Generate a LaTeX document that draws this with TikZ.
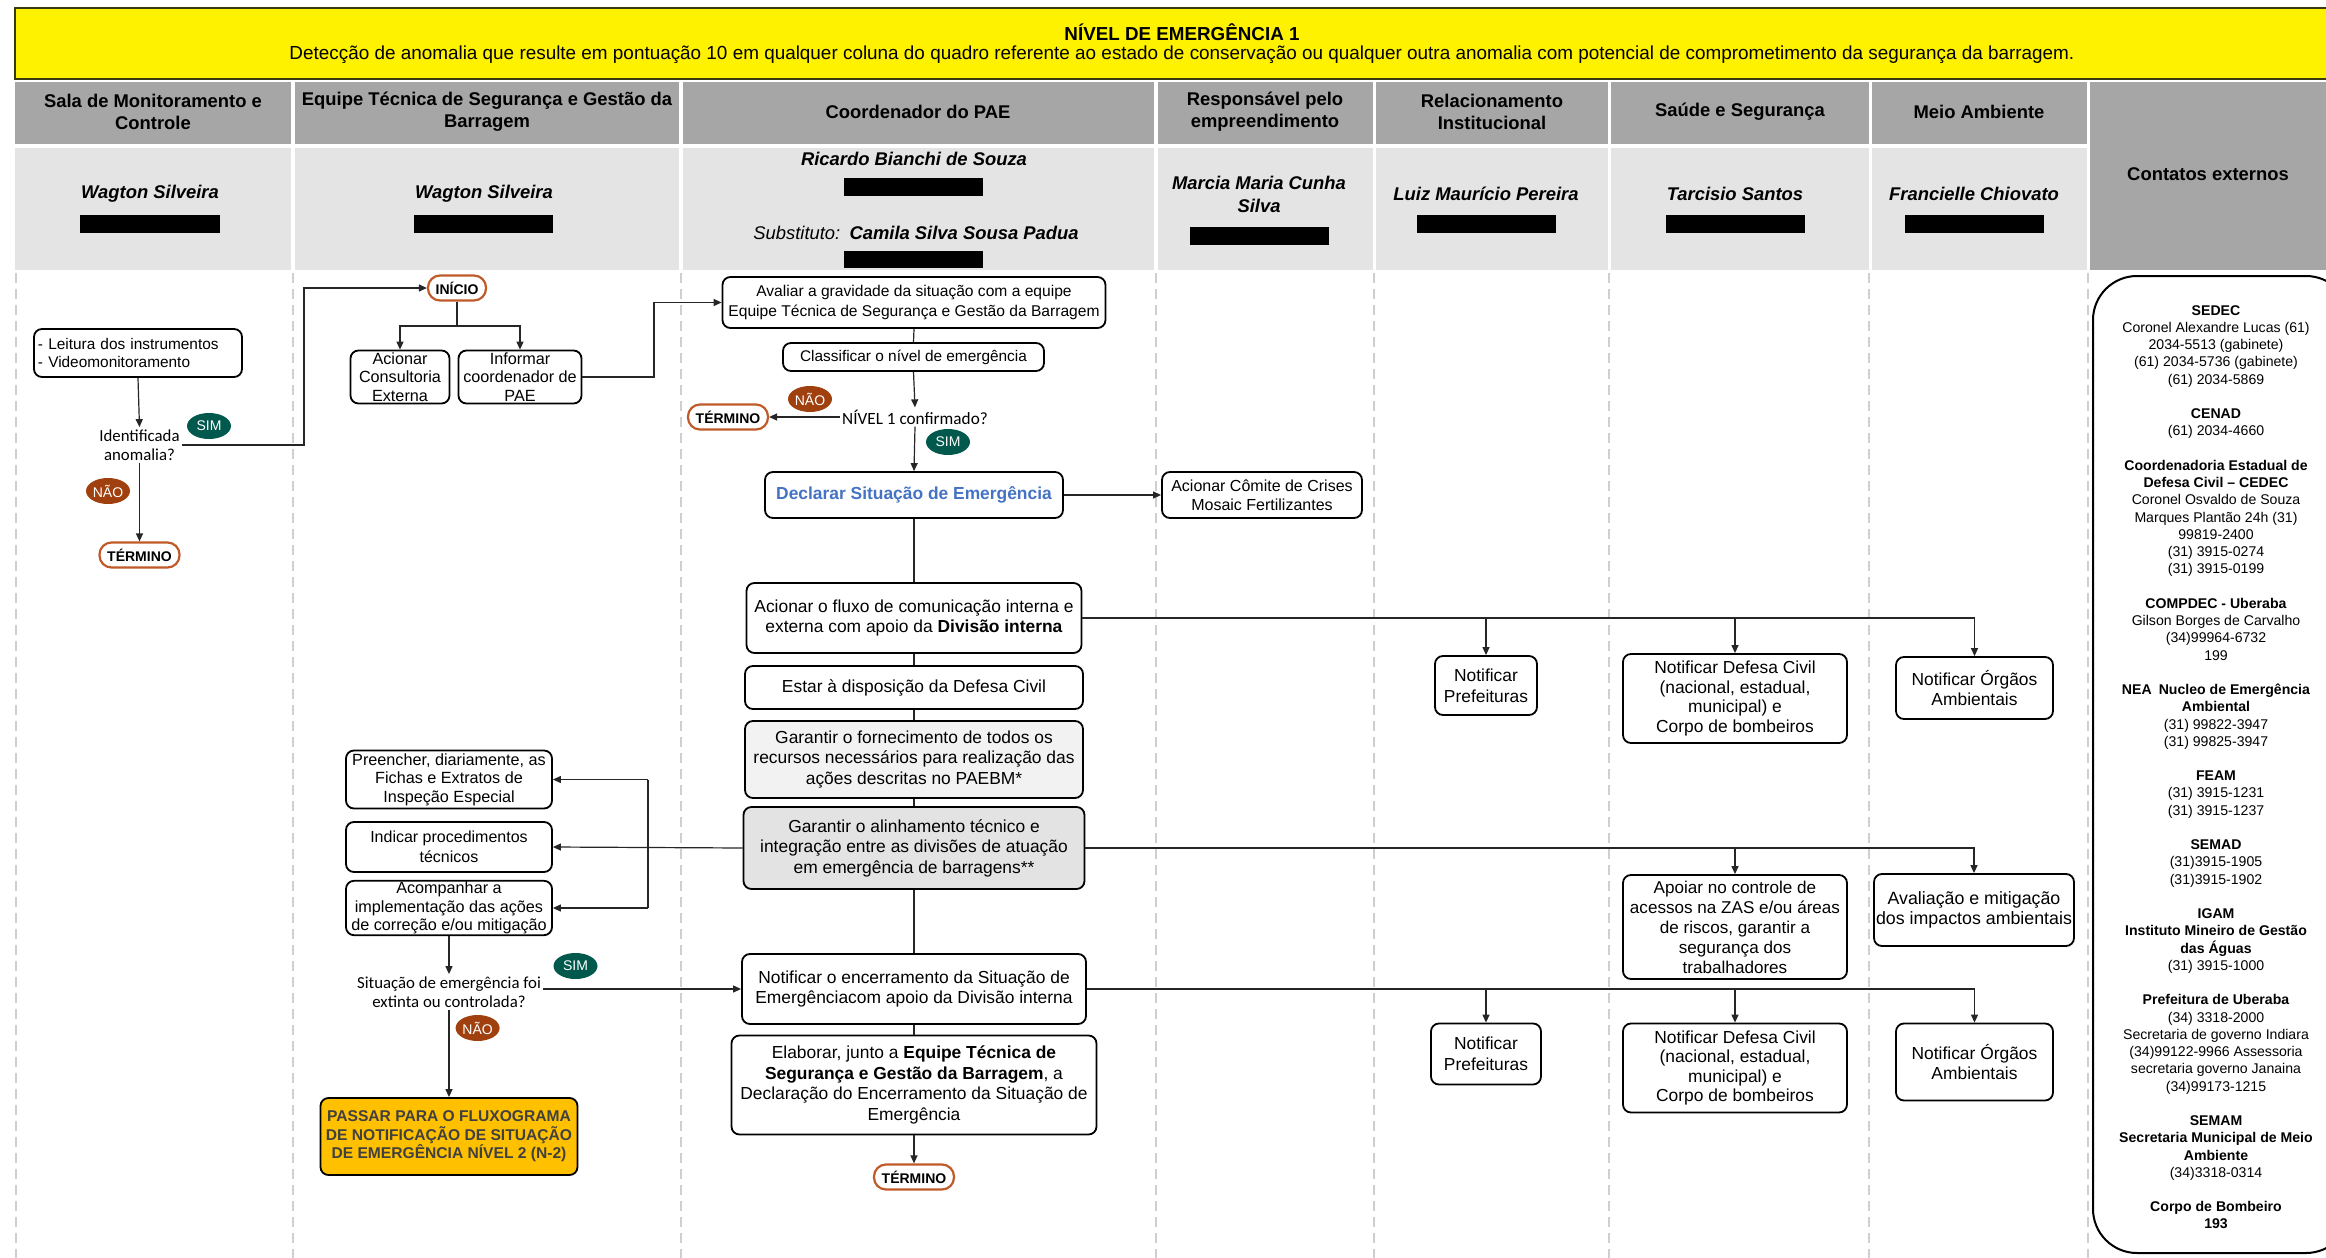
\documentclass[tikz,border=0pt]{standalone}
\usepackage{fontspec}
\setmainfont{Liberation Sans}
\newfontfamily\calib{Carlito}
\usetikzlibrary{arrows.meta,calc,shapes.geometric}
\definecolor{chdr}{HTML}{A6A6A6}
\definecolor{cname}{HTML}{E4E4E4}
\definecolor{csim}{HTML}{00594C}
\definecolor{cnao}{HTML}{A0400F}
\definecolor{cpill}{HTML}{C05A28}
\definecolor{cdecl}{HTML}{4472C4}
\definecolor{camber}{HTML}{FFC000}
\definecolor{cpass}{HTML}{404040}
\definecolor{cfillA}{HTML}{F2F2F2}
\definecolor{cfillB}{HTML}{E3E3E3}
\definecolor{clane}{HTML}{CFCFCF}
\definecolor{ctb}{HTML}{3A3A10}
\definecolor{ccon}{HTML}{262626}
\tikzset{
  box/.style={draw=black, line width=0.9pt, rounded corners=4pt, fill=white, align=center,
    inner sep=1pt, font=\fontsize{8.7}{10.3}\selectfont},
  smallbox/.style={box, inner sep=0.5pt, font=\fontsize{8.1}{9.3}\selectfont},
  dec/.style={align=center, inner sep=1pt, font=\calib\fontsize{8.4}{9.6}\selectfont},
  simb/.style={ellipse, fill=csim, text=white, minimum width=22pt, minimum height=13pt, inner sep=0pt, font=\fontsize{7}{8}\selectfont},
  naob/.style={ellipse, fill=cnao, text=white, minimum width=22pt, minimum height=13pt, inner sep=0pt, font=\fontsize{7}{8}\selectfont},
  pill/.style={draw=cpill, line width=1.1pt, rounded corners=6pt, fill=white, minimum width=40pt, minimum height=12.5pt, inner sep=1pt, font=\bfseries\fontsize{7}{8}\selectfont},
  arr/.style={draw=ccon, line width=0.6pt, -{Triangle[length=4pt,width=3.5pt]}},
  ln/.style={draw=ccon, line width=0.6pt},
  lane/.style={draw=clane, line width=0.7pt, dash pattern=on 5pt off 3pt},
  hdrt/.style={align=center, inner sep=0pt, font=\bfseries\fontsize{9.2}{11}\selectfont},
  namet/.style={align=center, inner sep=0pt, font=\bfseries\itshape\fontsize{9.2}{11.5}\selectfont},
}
\begin{document}
\begin{tikzpicture}[x=0.5pt,y=-0.5pt]
\useasboundingbox (0,0) rectangle (2326,1258);
\fill[white] (0,0) rectangle (2326,1258);
% title band
\fill[yellow] (15,8) rectangle (2345,79);
\draw[ctb, line width=1.3pt] (2345,8) -- (15,8) -- (15,79) -- (2345,79);
\node[font=\bfseries\fontsize{9.4}{11}\selectfont, inner sep=0pt] (t1) at (1182,32) {NÍVEL DE EMERGÊNCIA 1};
\node[font=\fontsize{9.45}{11}\selectfont, inner sep=0pt] (t2) at (1182,55) {Detecção de anomalia que resulte em pontuação 10 em qualquer coluna do quadro referente ao estado de conservação ou qualquer outra anomalia com potencial de comprometimento da segurança da barragem.};
% header cells
\foreach \a/\b in {15/291,295/679,683/1154,1158/1373,1376/1608,1611/1869,1872/2087}{
  \fill[chdr] (\a,82) rectangle (\b,144);
  \fill[cname] (\a,148) rectangle (\b,270);
}
\fill[chdr] (2090,82) rectangle (2326,270);
\node[hdrt] (h1) at (153,112) {Sala de Monitoramento e\\Controle};
\node[hdrt] (h2) at (487,112) {Equipe Técnica de Segurança e Gestão da\\Barragem};
\node[hdrt] (h3) at (918,112) {Coordenador do PAE};
\node[hdrt] (h4) at (1265,112) {Responsável pelo\\empreendimento};
\node[hdrt] (h5) at (1492,112) {Relacionamento\\Institucional};
\node[hdrt] (h6) at (1740,112) {Saúde e Segurança};
\node[hdrt] (h7) at (1979,112) {Meio Ambiente};
\node[hdrt] (h8) at (2208,174) {Contatos externos};
% names
\node[namet] (n1) at (150,194) {Wagton Silveira};
\node[namet] (n2) at (484,194) {Wagton Silveira};
\node[namet] (n3) at (914,159) {Ricardo Bianchi de Souza};
\node[namet] (n3b) at (916,233) {{\mdseries Substituto:}\enspace Camila Silva Sousa Padua};
\node[namet] (n4) at (1259,194) {Marcia Maria Cunha\\Silva};
\node[namet] (n5) at (1486,194) {Luiz Maurício Pereira};
\node[namet] (n6) at (1735,194) {Tarcisio Santos};
\node[namet] (n7) at (1974,194) {Francielle Chiovato};
\fill[black] (80,215) rectangle (220,233);
\fill[black] (414,215) rectangle (553,233);
\fill[black] (844,178) rectangle (983,196);
\fill[black] (844,251) rectangle (983,268);
\fill[black] (1190,227) rectangle (1329,245);
\fill[black] (1417,215) rectangle (1556,233);
\fill[black] (1666,215) rectangle (1805,233);
\fill[black] (1905,215) rectangle (2044,233);
% lanes
\foreach \x in {16,293,681,1156,1374,1609,1869,2088}{
  \draw[lane] (\x,273) -- (\x,1258);
}
% contacts box
\draw[black, line width=1pt, rounded corners=22pt] (2093,276) rectangle (2350,1253);
\node[anchor=north, align=center, inner sep=0pt, font=\fontsize{7.05}{8.62}\selectfont] (cont) at (2216,305) {%
\textbf{SEDEC}\\Coronel Alexandre Lucas (61)\\2034-5513 (gabinete)\\(61) 2034-5736 (gabinete)\\(61) 2034-5869\\[8.62pt]
\textbf{CENAD}\\(61) 2034-4660\\[8.62pt]
\textbf{Coordenadoria Estadual de}\\\textbf{Defesa Civil – CEDEC}\\Coronel Osvaldo de Souza\\Marques Plantão 24h (31)\\99819-2400\\(31) 3915-0274\\(31) 3915-0199\\[8.62pt]
\textbf{COMPDEC - Uberaba}\\Gilson Borges de Carvalho\\(34)99964-6732\\199\\[8.62pt]
\textbf{NEA\enspace Nucleo de Emergência}\\\textbf{Ambiental}\\(31) 99822-3947\\(31) 99825-3947\\[8.62pt]
\textbf{FEAM}\\(31) 3915-1231\\(31) 3915-1237\\[8.62pt]
\textbf{SEMAD}\\(31)3915-1905\\(31)3915-1902\\[8.62pt]
\textbf{IGAM}\\\textbf{Instituto Mineiro de Gestão}\\\textbf{das Águas}\\(31) 3915-1000\\[8.62pt]
\textbf{Prefeitura de Uberaba}\\(34) 3318-2000\\Secretaria de governo Indiara\\(34)99122-9966 Assessoria\\secretaria governo Janaina\\(34)99173-1215\\[8.62pt]
\textbf{SEMAM}\\\textbf{Secretaria Municipal de Meio}\\\textbf{Ambiente}\\(34)3318-0314\\[8.62pt]
\textbf{Corpo de Bombeiro}\\\textbf{193}};
% ---- lane 1
\node[box, minimum width=104pt, minimum height=24pt, align=left, text width=100pt, inner sep=2pt, font=\fontsize{7.7}{9.4}\selectfont] (leit) at (138,353) {- Leitura dos instrumentos\\- Videomonitoramento};
\node[dec] (ident) at (139.5,445) {Identificada\\anomalia?};
\node[simb] (sim1) at (209,426) {SIM};
\node[naob] (nao1) at (108,491) {NÃO};
\node[pill] (term1) at (139.5,555) {TÉRMINO};
% ---- lane 2
\node[pill, minimum width=29pt] (inicio) at (457,288) {INÍCIO};
\node[smallbox, minimum width=49.5pt, minimum height=26.5pt] (acion) at (400,377) {Acionar\\Consultoria\\Externa};
\node[smallbox, minimum width=61.5pt, minimum height=26.5pt] (inform) at (520,377) {Informar\\coordenador de\\PAE};
% ---- lane 3
\node[box, minimum width=191.5pt, minimum height=25.5pt, font=\fontsize{7.8}{9.6}\selectfont] (aval) at (914,302.5) {Avaliar a gravidade da situação com a equipe\\Equipe Técnica de Segurança e Gestão da Barragem};
\node[box, minimum width=130.5pt, minimum height=14pt, font=\fontsize{7.7}{9.4}\selectfont] (classif) at (913.5,357) {Classificar o nível de emergência};
\node[dec, font=\calib\fontsize{8.6}{9.6}\selectfont] (nivel) at (915,417) {NÍVEL 1 confirmado?};
\node[naob] (nao2) at (810,399) {NÃO};
\node[pill] (term2) at (728,417) {TÉRMINO};
\node[simb] (sim2) at (948,442) {SIM};
\node[box, minimum width=149pt, minimum height=23pt, text=cdecl, font=\bfseries\fontsize{8.7}{10}\selectfont] (decl) at (914,495) {Declarar Situação de Emergência};
\node[box, minimum width=100pt, minimum height=23pt, font=\fontsize{8}{9.6}\selectfont] (comite) at (1262,495) {Acionar Cômite de Crises\\Mosaic Fertilizantes};
\node[box, minimum width=167.5pt, minimum height=35pt] (fluxo) at (914,618) {Acionar o fluxo de comunicação interna e\\externa com apoio da \textbf{Divisão interna}};
\node[box, minimum width=169pt, minimum height=21.5pt] (estar) at (914,687.5) {Estar à disposição da Defesa Civil};
\node[box, fill=cfillA, minimum width=169pt, minimum height=38.5pt] (fornec) at (914,759.5) {Garantir o fornecimento de todos os\\recursos necessários para realização das\\ações descritas no PAEBM*};
\node[box, fill=cfillB, minimum width=170.5pt, minimum height=41pt] (alinh) at (914,848) {Garantir o alinhamento técnico e\\integração entre as divisões de atuação\\em emergência de barragens**};
\node[box, minimum width=172pt, minimum height=35pt] (encerr) at (914,989) {Notificar o encerramento da Situação de\\Emergênciacom apoio da Divisão interna};
\node[box, minimum width=182.5pt, minimum height=49.5pt] (elab) at (914,1085) {Elaborar, junto a \textbf{Equipe Técnica de}\\\textbf{Segurança e Gestão da Barragem}, a\\Declaração do Encerramento da Situação de\\Emergência};
\node[pill] (term3) at (914,1177) {TÉRMINO};
% ---- right lanes, first row
\node[box, minimum width=51pt, minimum height=29.5pt] (pref1) at (1486,685.5) {Notificar\\Prefeituras};
\node[box, minimum width=112pt, minimum height=44.5pt, font=\fontsize{8.7}{9.7}\selectfont] (dc1) at (1735,698.5) {Notificar Defesa Civil\\(nacional, estadual,\\municipal) e\\Corpo de bombeiros};
\node[box, minimum width=78.5pt, minimum height=31pt] (org1) at (1974.5,688) {Notificar Órgãos\\Ambientais};
% ---- lane 2 lower
\node[smallbox, minimum width=103pt, minimum height=29pt] (preen) at (449,779.5) {Preencher, diariamente, as\\Fichas e Extratos de\\Inspeção Especial};
\node[smallbox, minimum width=103pt, minimum height=25pt, font=\fontsize{8}{10}\selectfont] (indic) at (449,847) {Indicar procedimentos\\técnicos};
\node[smallbox, minimum width=103pt, minimum height=26.5pt] (acomp) at (449,908) {Acompanhar a\\implementação das ações\\de correção e/ou mitigação};
\node[dec] (situ) at (449,992) {Situação de emergência foi\\extinta ou controlada?};
\node[simb] (sim3) at (575.5,966) {SIM};
\node[naob] (nao3) at (477.6,1028) {NÃO};
\node[box, fill=camber, text=cpass, minimum width=128.5pt, minimum height=38.5pt, font=\bfseries\fontsize{7.8}{9.3}\selectfont] (passar) at (449,1136.5) {PASSAR PARA O FLUXOGRAMA\\DE NOTIFICAÇÃO DE SITUAÇÃO\\DE EMERGÊNCIA NÍVEL 2 (N-2)};
% ---- right lanes, second row
\node[box, minimum width=112pt, minimum height=52pt, font=\fontsize{8.55}{10}\selectfont] (apoiar) at (1735,927) {Apoiar no controle de\\acessos na ZAS e/ou áreas\\de riscos, garantir a\\segurança dos\\trabalhadores};
\node[box, minimum width=100pt, minimum height=36pt, font=\fontsize{8.9}{10.3}\selectfont] (avmit) at (1974,910) {Avaliação e mitigação\\dos impactos ambientais};
% ---- right lanes, third row
\node[box, minimum width=55pt, minimum height=30.5pt] (pref2) at (1486,1054) {Notificar\\Prefeituras};
\node[box, minimum width=112pt, minimum height=44.5pt, font=\fontsize{8.7}{9.7}\selectfont] (dc2) at (1735,1068) {Notificar Defesa Civil\\(nacional, estadual,\\municipal) e\\Corpo de bombeiros};
\node[box, minimum width=78.5pt, minimum height=38.5pt] (org2) at (1974.5,1062) {Notificar Órgãos\\Ambientais};
% ---- connectors
\coordinate (j1) at (304,0);
\coordinate (j2) at (654,0);
\coordinate (j3) at (648,0);
\coordinate (sp) at (0,326);
\draw[arr] (leit.south) -- (ident.north);
\draw[arr] (ident.east) -- (ident.east -| j1) |- (inicio.west);
\draw[arr] (ident.south) -- (term1.north);
\draw[ln] (inicio.south) -- (inicio.south |- sp);
\draw[arr] (inicio.south |- sp) -| (acion.north);
\draw[arr] (inicio.south |- sp) -| (inform.north);
\draw[arr] (inform.east) -- (inform.east -| j2) |- (aval.west);
\draw[ln] (aval.south) -- (classif.north);
\draw[arr] (classif.south) -- (nivel.north);
\draw[arr] (nivel.west) -- (term2.east);
\draw[arr] (nivel.south) -- (decl.north);
\draw[arr] (decl.east) -- (comite.west);
\draw[ln] (decl.south) -- (fluxo.north);
\draw[ln] (fluxo.south) -- (estar.north);
\draw[ln] (estar.south) -- (fornec.north);
\draw[ln] (fornec.south) -- (alinh.north);
\draw[ln] (alinh.south) -- (encerr.north);
\draw[ln] (encerr.south) -- (elab.north);
\draw[arr] (elab.south) -- (term3.north);
\draw[arr] (fluxo.east) -| (org1.north);
\draw[arr] (fluxo.east -| pref1.north) -- (pref1.north);
\draw[arr] (fluxo.east -| dc1.north) -- (dc1.north);
\draw[arr] (alinh.west) -- (indic.east);
\draw[ln] (j3 |- preen.east) -- (j3 |- acomp.east);
\draw[arr] (j3 |- preen.east) -- (preen.east);
\draw[arr] (j3 |- acomp.east) -- (acomp.east);
\draw[arr] (alinh.east) -| (avmit.north);
\draw[arr] (alinh.east -| apoiar.north) -- (apoiar.north);
\draw[arr] (acomp.south) -- (situ.north);
\draw[arr] (situ.east |- encerr.west) -- (encerr.west);
\draw[arr] (situ.south) -- (passar.north);
\draw[arr] (encerr.east) -| (org2.north);
\draw[arr] (encerr.east -| pref2.north) -- (pref2.north);
\draw[arr] (encerr.east -| dc2.north) -- (dc2.north);
\end{tikzpicture}
\end{document}
